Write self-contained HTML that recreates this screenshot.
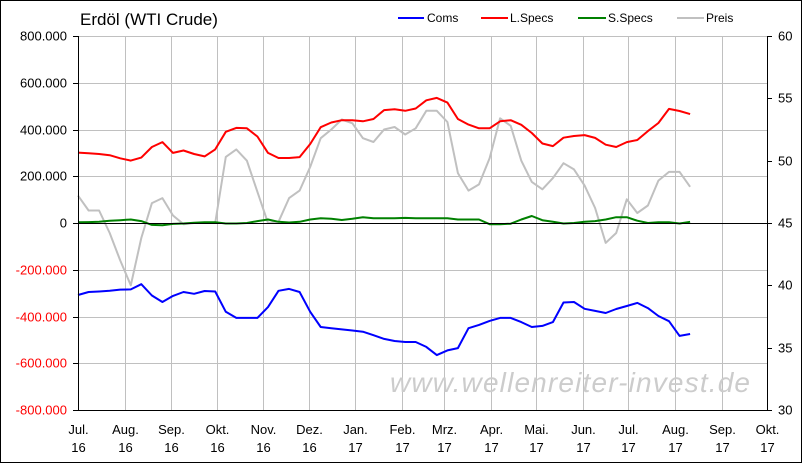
<!DOCTYPE html>
<html><head><meta charset="utf-8"><style>
body{margin:0;background:#fff}
svg{display:block;font-family:"Liberation Sans Narrow","Liberation Sans",Arial,sans-serif}
</style></head><body>
<svg id="c" width="802" height="463" viewBox="0 0 802 463">
<rect x="0.5" y="0.5" width="801" height="462" fill="#fff" stroke="#000"/>
<text x="80" y="25" font-size="17" fill="#000">Erdöl (WTI Crude)</text>
<g font-size="12">
<g><line x1="398" y1="18" x2="424" y2="18" stroke="#0000ff" stroke-width="2"/><text x="427" y="22">Coms</text></g>
<g><line x1="481" y1="18" x2="508" y2="18" stroke="#ff0000" stroke-width="2"/><text x="510" y="22">L.Specs</text></g>
<g><line x1="578" y1="18" x2="606" y2="18" stroke="#008000" stroke-width="2"/><text x="608" y="22">S.Specs</text></g>
<g><line x1="677" y1="18" x2="704" y2="18" stroke="#c0c0c0" stroke-width="2"/><text x="706" y="22">Preis</text></g>
</g>
<g id="grid"></g>
<text x="390" y="392" font-size="28" font-style="italic" fill="#cccccc" textLength="360" lengthAdjust="spacing">www.wellenreiter-invest.de</text>
<g id="series"></g>
<g id="axes"></g>
</svg>
<script>
const monthLabels=["Jul.","Aug.","Sep.","Okt.","Nov.","Dez.","Jan.","Feb.","Mrz.","Apr.","Mai.","Jun.","Jul.","Aug.","Sep.","Okt."];
const yearLabels=["16","16","16","16","16","16","17","17","17","17","17","17","17","17","17","17"];
const monthDays=[0,31,62,92,123,153,184,215,243,274,304,335,365,396,427,457];
const leftTicks=[800,600,400,200,0,-200,-400,-600,-800];
const rightTicks=[60,55,50,45,40,35,30];
const coms=[-308,-295,-293,-290,-285,-284,-262,-310,-338,-312,-295,-303,-291,-293,-380,-406,-406,-406,-360,-290,-282,-295,-380,-445,-450,-455,-460,-465,-480,-496,-505,-509,-509,-530,-565,-545,-535,-450,-436,-419,-406,-406,-424,-445,-440,-424,-340,-338,-367,-376,-385,-368,-355,-342,-364,-398,-420,-483,-475];
const lspecs=[301,298,295,290,277,267,280,325,346,300,310,295,285,315,390,407,405,370,300,278,278,282,338,410,430,440,440,435,445,483,487,480,490,525,535,515,445,421,405,405,435,440,420,385,340,329,365,372,376,364,335,325,346,355,393,428,488,479,466];
const sspecs=[3,4,5,10,12,15,8,-8,-10,-4,-2,1,3,3,-2,-2,0,8,15,5,2,5,15,20,18,13,18,25,20,20,20,22,20,20,20,20,15,15,15,-5,-5,-3,15,30,12,5,-2,0,5,8,15,25,25,10,0,3,3,-2,5];
const preis=[47.2,46.0,46.0,44.2,42.0,40.0,43.8,46.6,47.0,45.6,44.9,45.0,45.0,45.0,50.3,50.9,50.0,47.5,45.0,45.1,47.0,47.6,49.5,51.8,52.5,53.3,53.0,51.8,51.5,52.5,52.7,52.1,52.6,54.0,54.0,53.1,49.0,47.6,48.1,50.2,53.4,52.8,50.0,48.3,47.7,48.6,49.8,49.3,48.0,46.2,43.4,44.2,46.9,45.8,46.4,48.4,49.1,49.1,47.9];

const X0=78,X1=767,Y0=36,Y1=410;
const dayX=d=>X0+d*(X1-X0)/457;
const weekX=i=>dayX(i*7);
const yL=v=>Y0+(800-v)*(Y1-Y0)/1600;
const yR=v=>Y0+(60-v)*(Y1-Y0)/30;
const NS="http://www.w3.org/2000/svg";
function mk(tag,attrs,parent){const e=document.createElementNS(NS,tag);for(const k in attrs)e.setAttribute(k,attrs[k]);parent.appendChild(e);return e;}
const grid=document.getElementById('grid'),axes=document.getElementById('axes'),series=document.getElementById('series');
leftTicks.forEach(v=>{
  const y=Math.round(yL(v))+0.5;
  const l=mk('line',{x1:X0,x2:X1,y1:y,y2:y,stroke:v===0?'#000':'#c0c0c0','stroke-width':1},v===0?axes:grid);
  
  
  const t=mk('text',{x:X0-11,y:y+4,'text-anchor':'end','font-size':13,fill:v<0?'#ff0000':'#000'},axes);
  t.textContent=v===0?'0':(v<0?'-':'')+Math.abs(v)+'.000';
  
  
  const tk=mk('line',{x1:X0-5,x2:X0,y1:y,y2:y,stroke:'#000'},axes);
  
  
});
rightTicks.forEach(v=>{
  const y=Math.round(yR(v))+0.5;
  const t=mk('text',{x:X1+11,y:y+4,'font-size':13,fill:'#000'},axes);
  t.textContent=v;
  
  
  const tk=mk('line',{x1:X1,x2:X1+5,y1:y,y2:y,stroke:'#000'},axes);
  
  
});
monthDays.forEach((d,i)=>{
  const x=Math.round(dayX(d))+0.5;
  if(i>0&&i<monthDays.length-1){
    const g=mk('line',{x1:x,x2:x,y1:Y0,y2:Y1,stroke:'#c0c0c0'},grid);
    
    
  }
  const t=mk('text',{x:x,y:434,'text-anchor':'middle','font-size':13},axes);
  t.textContent=monthLabels[i];
  
  
  const t2=mk('text',{x:x,y:452,'text-anchor':'middle','font-size':13},axes);
  t2.textContent=yearLabels[i];
  
  
});
[[X0+0.5,Y0,X0+0.5,Y1+0.5],[X1+0.5,Y0,X1+0.5,Y1+0.5],[X0,Y1+0.5,X1+1,Y1+0.5]].forEach((a,i)=>{
  const l=mk('line',{x1:a[0],y1:a[1],x2:a[2],y2:a[3],stroke:'#000'},axes);
  
  
});
function line(data,yf,color,name){
  const p=mk('polyline',{points:data.map((v,i)=>weekX(i).toFixed(1)+','+yf(v).toFixed(1)).join(' '),fill:'none',stroke:color,'stroke-width':2,'stroke-linejoin':'round'},series);
  
  
}
line(preis,yR,'#c0c0c0','preis-line');
line(sspecs,yL,'#008000','sspecs-line');
line(lspecs,yL,'#ff0000','lspecs-line');
line(coms,yL,'#0000ff','coms-line');
</script>
</body></html>
